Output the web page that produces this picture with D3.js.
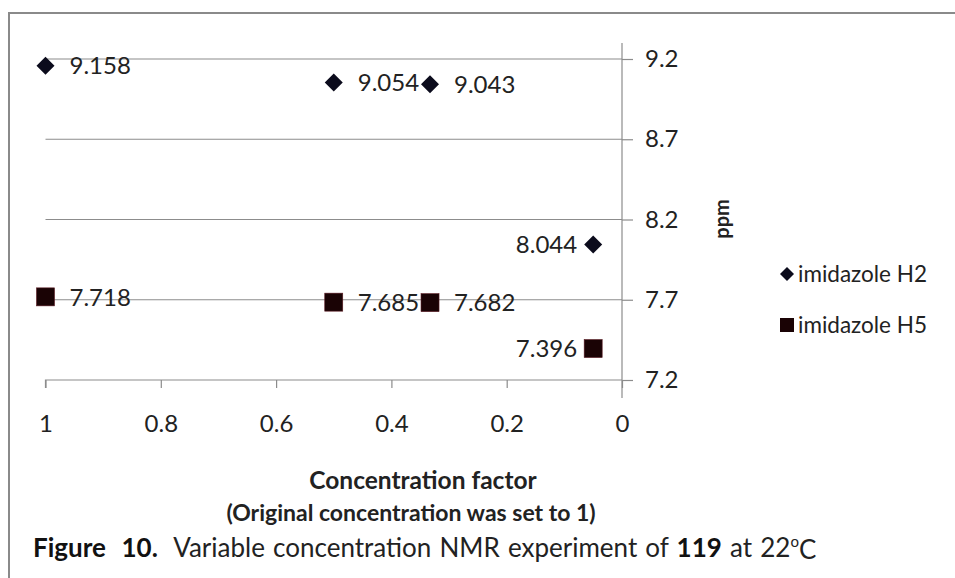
<!DOCTYPE html>
<html><head><meta charset="utf-8">
<script src="https://cdn.jsdelivr.net/npm/d3@7"></script>
<style>
html,body{margin:0;padding:0;background:#fff;}
svg{display:block;}
text{font-family:Lato,"Open Sans",sans-serif;fill:#222;}
</style></head>
<body>
<svg id="chart" width="955" height="578"></svg>
<script>
const concentration = [1, 0.5, 0.333, 0.05];
const seriesNames = ["imidazole H2", "imidazole H5"];
const h2 = [9.158, 9.054, 9.043, 8.044];
const h5 = [7.718, 7.685, 7.682, 7.396];
const yTicks = [7.2, 7.7, 8.2, 8.7, 9.2];
const xTicks = [1, 0.8, 0.6, 0.4, 0.2, 0];
const xTitle = ["Concentration factor", "(Original concentration was set to 1)"];
const yTitle = "ppm";

const svg = d3.select("#chart");
svg.append("rect").attr("x",9).attr("y",13).attr("width",960).attr("height",600)
  .attr("fill","#fff").attr("stroke","#8a8a8a").attr("stroke-width",2);

const x = d3.scaleLinear().domain([1,0]).range([45.5,622]);
const y = d3.scaleLinear().domain([7.2,9.2]).range([380,59]);

// gridlines
svg.append("g").selectAll("line").data(yTicks.filter(d=>d>7.2)).join("line")
  .attr("x1",x(1)).attr("x2",x(0)).attr("y1",d=>y(d)).attr("y2",d=>y(d))
  .attr("stroke","#8c8c8c").attr("stroke-width",1.2);

// y axis (right side, at x=0)
const yAxis = d3.axisRight(y).tickValues(yTicks).tickSize(11).tickPadding(12).tickFormat(d3.format(".1f"));
const gy = svg.append("g").attr("transform",`translate(${x(0)},0)`).call(yAxis);
gy.select(".domain").remove();
gy.selectAll(".tick line").attr("stroke","#8c8c8c").attr("stroke-width",1.2);
gy.selectAll(".tick text").attr("font-size",24).attr("fill","#333").style("font-family","Lato,sans-serif");
svg.append("line").attr("x1",x(0)).attr("x2",x(0)).attr("y1",43).attr("y2",398)
  .attr("stroke","#8c8c8c").attr("stroke-width",1.2);

// x axis
const xAxis = d3.axisBottom(x).tickValues(xTicks).tickSize(8).tickPadding(27).tickFormat(d=>d3.format("")(d));
const gx = svg.append("g").attr("transform",`translate(0,${y(7.2)})`).call(xAxis);
gx.select(".domain").attr("stroke","#8c8c8c").attr("stroke-width",1.2).attr("d",`M${x(1)},8V0H${x(0)}`);
gx.selectAll(".tick line").attr("stroke","#8c8c8c").attr("stroke-width",1.2);
gx.selectAll(".tick text").attr("font-size",24).attr("fill","#333").style("font-family","Lato,sans-serif");

// markers
const diamond = s => `M0,${-s}L${s},0L0,${s}L${-s},0Z`;
const ptsH2 = concentration.map((c,i)=>({c, v:h2[i], i}));
const ptsH5 = concentration.map((c,i)=>({c, v:h5[i], i}));

svg.append("g").selectAll("path").data(ptsH2).join("path")
  .attr("transform",d=>`translate(${x(d.c)},${y(d.v)})`)
  .attr("d",diamond(9)).attr("fill","#0b0b1c");
svg.append("g").selectAll("rect").data(ptsH5).join("rect")
  .attr("x",d=>x(d.c)-9).attr("y",d=>y(d.v)-9).attr("width",18).attr("height",18)
  .attr("fill","#1a0305").attr("stroke","#5a1a22").attr("stroke-width",0.6);

// labels
const fmt = d3.format(".3f");
function labels(pts){
  svg.append("g").selectAll("text").data(pts).join("text")
    .attr("x",d=> d.i===pts.length-1 ? x(d.c)-16 : x(d.c)+24)
    .attr("y",d=>y(d.v))
    .attr("dy","0.36em")
    .attr("text-anchor",d=> d.i===pts.length-1 ? "end" : "start")
    .attr("font-size",24).attr("fill","#333")
    .text(d=>fmt(d.v));
}
labels(ptsH2); labels(ptsH5);

// y title
svg.append("text").attr("transform","translate(729,219) rotate(-90)")
  .attr("text-anchor","middle").attr("font-size",20).attr("font-weight","bold").text(yTitle);

// legend
const lg = svg.append("g");
lg.append("path").attr("transform","translate(787,274)").attr("d",diamond(7)).attr("fill","#0b0b1c");
lg.append("text").attr("x",798).attr("y",274).attr("dy","0.36em").attr("font-size",22.5).attr("fill","#333").text(seriesNames[0]);
lg.append("rect").attr("x",780).attr("y",318).attr("width",14).attr("height",14).attr("fill","#1a0305");
lg.append("text").attr("x",798).attr("y",325).attr("dy","0.36em").attr("font-size",22.5).attr("fill","#333").text(seriesNames[1]);

// x title
svg.append("text").attr("x",423).attr("y",480).attr("dy","0.36em").attr("text-anchor","middle")
  .attr("font-size",24.5).attr("font-weight","bold").text(xTitle[0]);
svg.append("text").attr("x",411).attr("y",513).attr("dy","0.36em").attr("text-anchor","middle")
  .attr("font-size",23).attr("font-weight","bold").text(xTitle[1]);

// caption
const cap = svg.append("text").attr("x",33).attr("y",548).attr("dy","0.36em").attr("font-size",26).attr("fill","#333")
  .style("word-spacing","1.5px");
cap.append("tspan").attr("font-weight","bold").attr("fill","#111").text("Figure\u00a0 10.");
cap.append("tspan").text("\u00a0 Variable concentration NMR experiment of ");
cap.append("tspan").attr("font-weight","bold").attr("fill","#111").text("119");
cap.append("tspan").text(" at 22");
cap.append("tspan").attr("font-size",15).attr("dy","-0.7em").text("o");
cap.append("tspan").attr("dy","0.45em").text("C");
</script>
</body></html>
